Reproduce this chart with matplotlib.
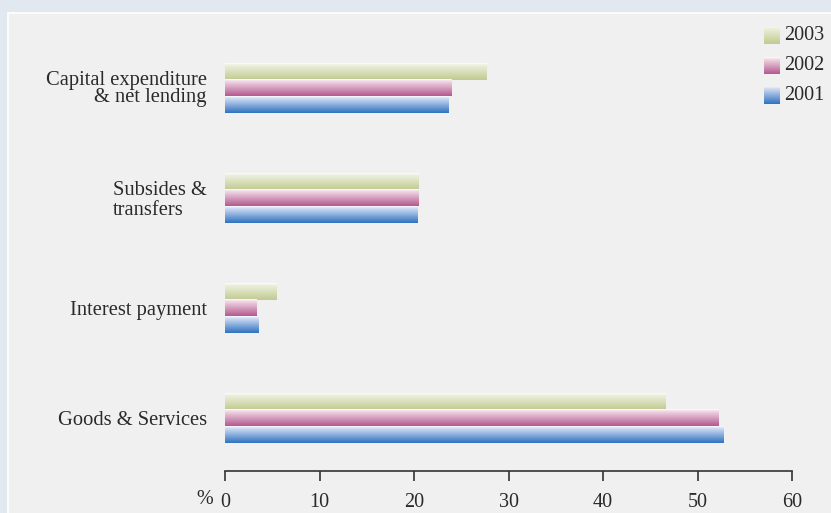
import numpy as np
import matplotlib
matplotlib.use("Agg")
import matplotlib.pyplot as plt
from matplotlib.colors import LinearSegmentedColormap
from matplotlib.patches import Rectangle

# expenditure shares, % of total
categories = ["Goods & Services", "Interest payment", "Subsides &\ntransfers",
              "Capital expenditure\n& net lending"]
years = ["2003", "2002", "2001"]
share_2003 = [46.6, 5.5, 20.5, 27.7]
share_2002 = [52.2, 3.3, 20.5, 24.0]
share_2001 = [52.7, 3.5, 20.4, 23.6]
x_ticks = [0, 10, 20, 30, 40, 50, 60]

# top-to-bottom gradient for each year (white edge -> light tint -> base)
shades = {
    "2003": ["#ffffff", "#eef0de", "#c0ca90"],
    "2002": ["#ffffff", "#f2dce9", "#b4588e"],
    "2001": ["#ffffff", "#d6e0f5", "#2f72c0"],
}

plt.rcParams["font.family"] = ["Liberation Serif", "DejaVu Serif"]
TXT = "#2a2a2a"

W, H = 831, 513
fig = plt.figure(figsize=(W / 100, H / 100), dpi=100)
fig.patch.set_facecolor("#e1e8f0")

# light panel behind the chart
fig.patches.append(Rectangle((8 / W, -0.01), 1.0, 1 - 13 / H + 0.01,
                             transform=fig.transFigure, facecolor="#f0f0f0",
                             edgecolor="white", linewidth=1.2, zorder=-5))


def gradient_cmap(name):
    return LinearSegmentedColormap.from_list(name, [(0, shades[name][0]),
                                                    (0.1, shades[name][1]),
                                                    (1, shades[name][2])])


ax = fig.add_axes([225 / W, 1 - 471 / H, (792 - 225) / W, (471 - 20) / H])
ax.set_facecolor("none")

y = np.arange(len(categories))
bar_h = 0.15
offsets = {"2003": bar_h, "2002": 0.0, "2001": -bar_h}
values = {"2003": share_2003, "2002": share_2002, "2001": share_2001}

grad = np.linspace(0, 1, 64).reshape(-1, 1)
for yr in years:
    bars = ax.barh(y + offsets[yr], values[yr], height=bar_h, color="none",
                   edgecolor="none")
    cmap = gradient_cmap(yr)
    for b in bars:
        x0, y0 = b.get_x(), b.get_y()
        ax.imshow(grad, cmap=cmap, aspect="auto", interpolation="bicubic",
                  extent=[x0, x0 + b.get_width(), y0, y0 + b.get_height()],
                  zorder=2)

ax.set_xlim(0, 60)
ax.set_ylim(-0.482, 3.618)

ax.set_xticks(x_ticks)
ax.set_xticklabels([str(t) for t in x_ticks], fontsize=14.5, color=TXT)
ax.tick_params(axis="x", direction="out", length=7, width=1.2,
               color="#333333", pad=9)
ax.set_yticks(y)
ax.set_yticklabels(categories, fontsize=14.8, color=TXT)
ax.tick_params(axis="y", length=0, pad=13)
for lab in ax.get_yticklabels():
    if lab.get_text().startswith("Subsides"):
        lab.set_multialignment("left")
        lab.set_linespacing(1.05)
    else:
        lab.set_multialignment("right")
        lab.set_linespacing(0.85)

for s in ["left", "right", "top"]:
    ax.spines[s].set_visible(False)
ax.spines["bottom"].set_color("#333333")
ax.spines["bottom"].set_linewidth(1.2)

fig.text(205 / W, 1 - 500 / H, "%", fontsize=14.5, color=TXT,
         ha="center", va="center")

# legend: gradient swatches with year labels
for i, yr in enumerate(years):
    top = 27 + 30 * i
    lax = fig.add_axes([764 / W, 1 - (top + 17) / H, 16 / W, 17 / H])
    lax.imshow(grad, cmap=gradient_cmap(yr), aspect="auto",
               interpolation="bicubic")
    lax.axis("off")
    fig.text(784 / W, 1 - (top + 9) / H, yr, fontsize=14.5, color=TXT,
             ha="left", va="center")

fig.savefig("out.png", dpi=100, facecolor=fig.get_facecolor())
